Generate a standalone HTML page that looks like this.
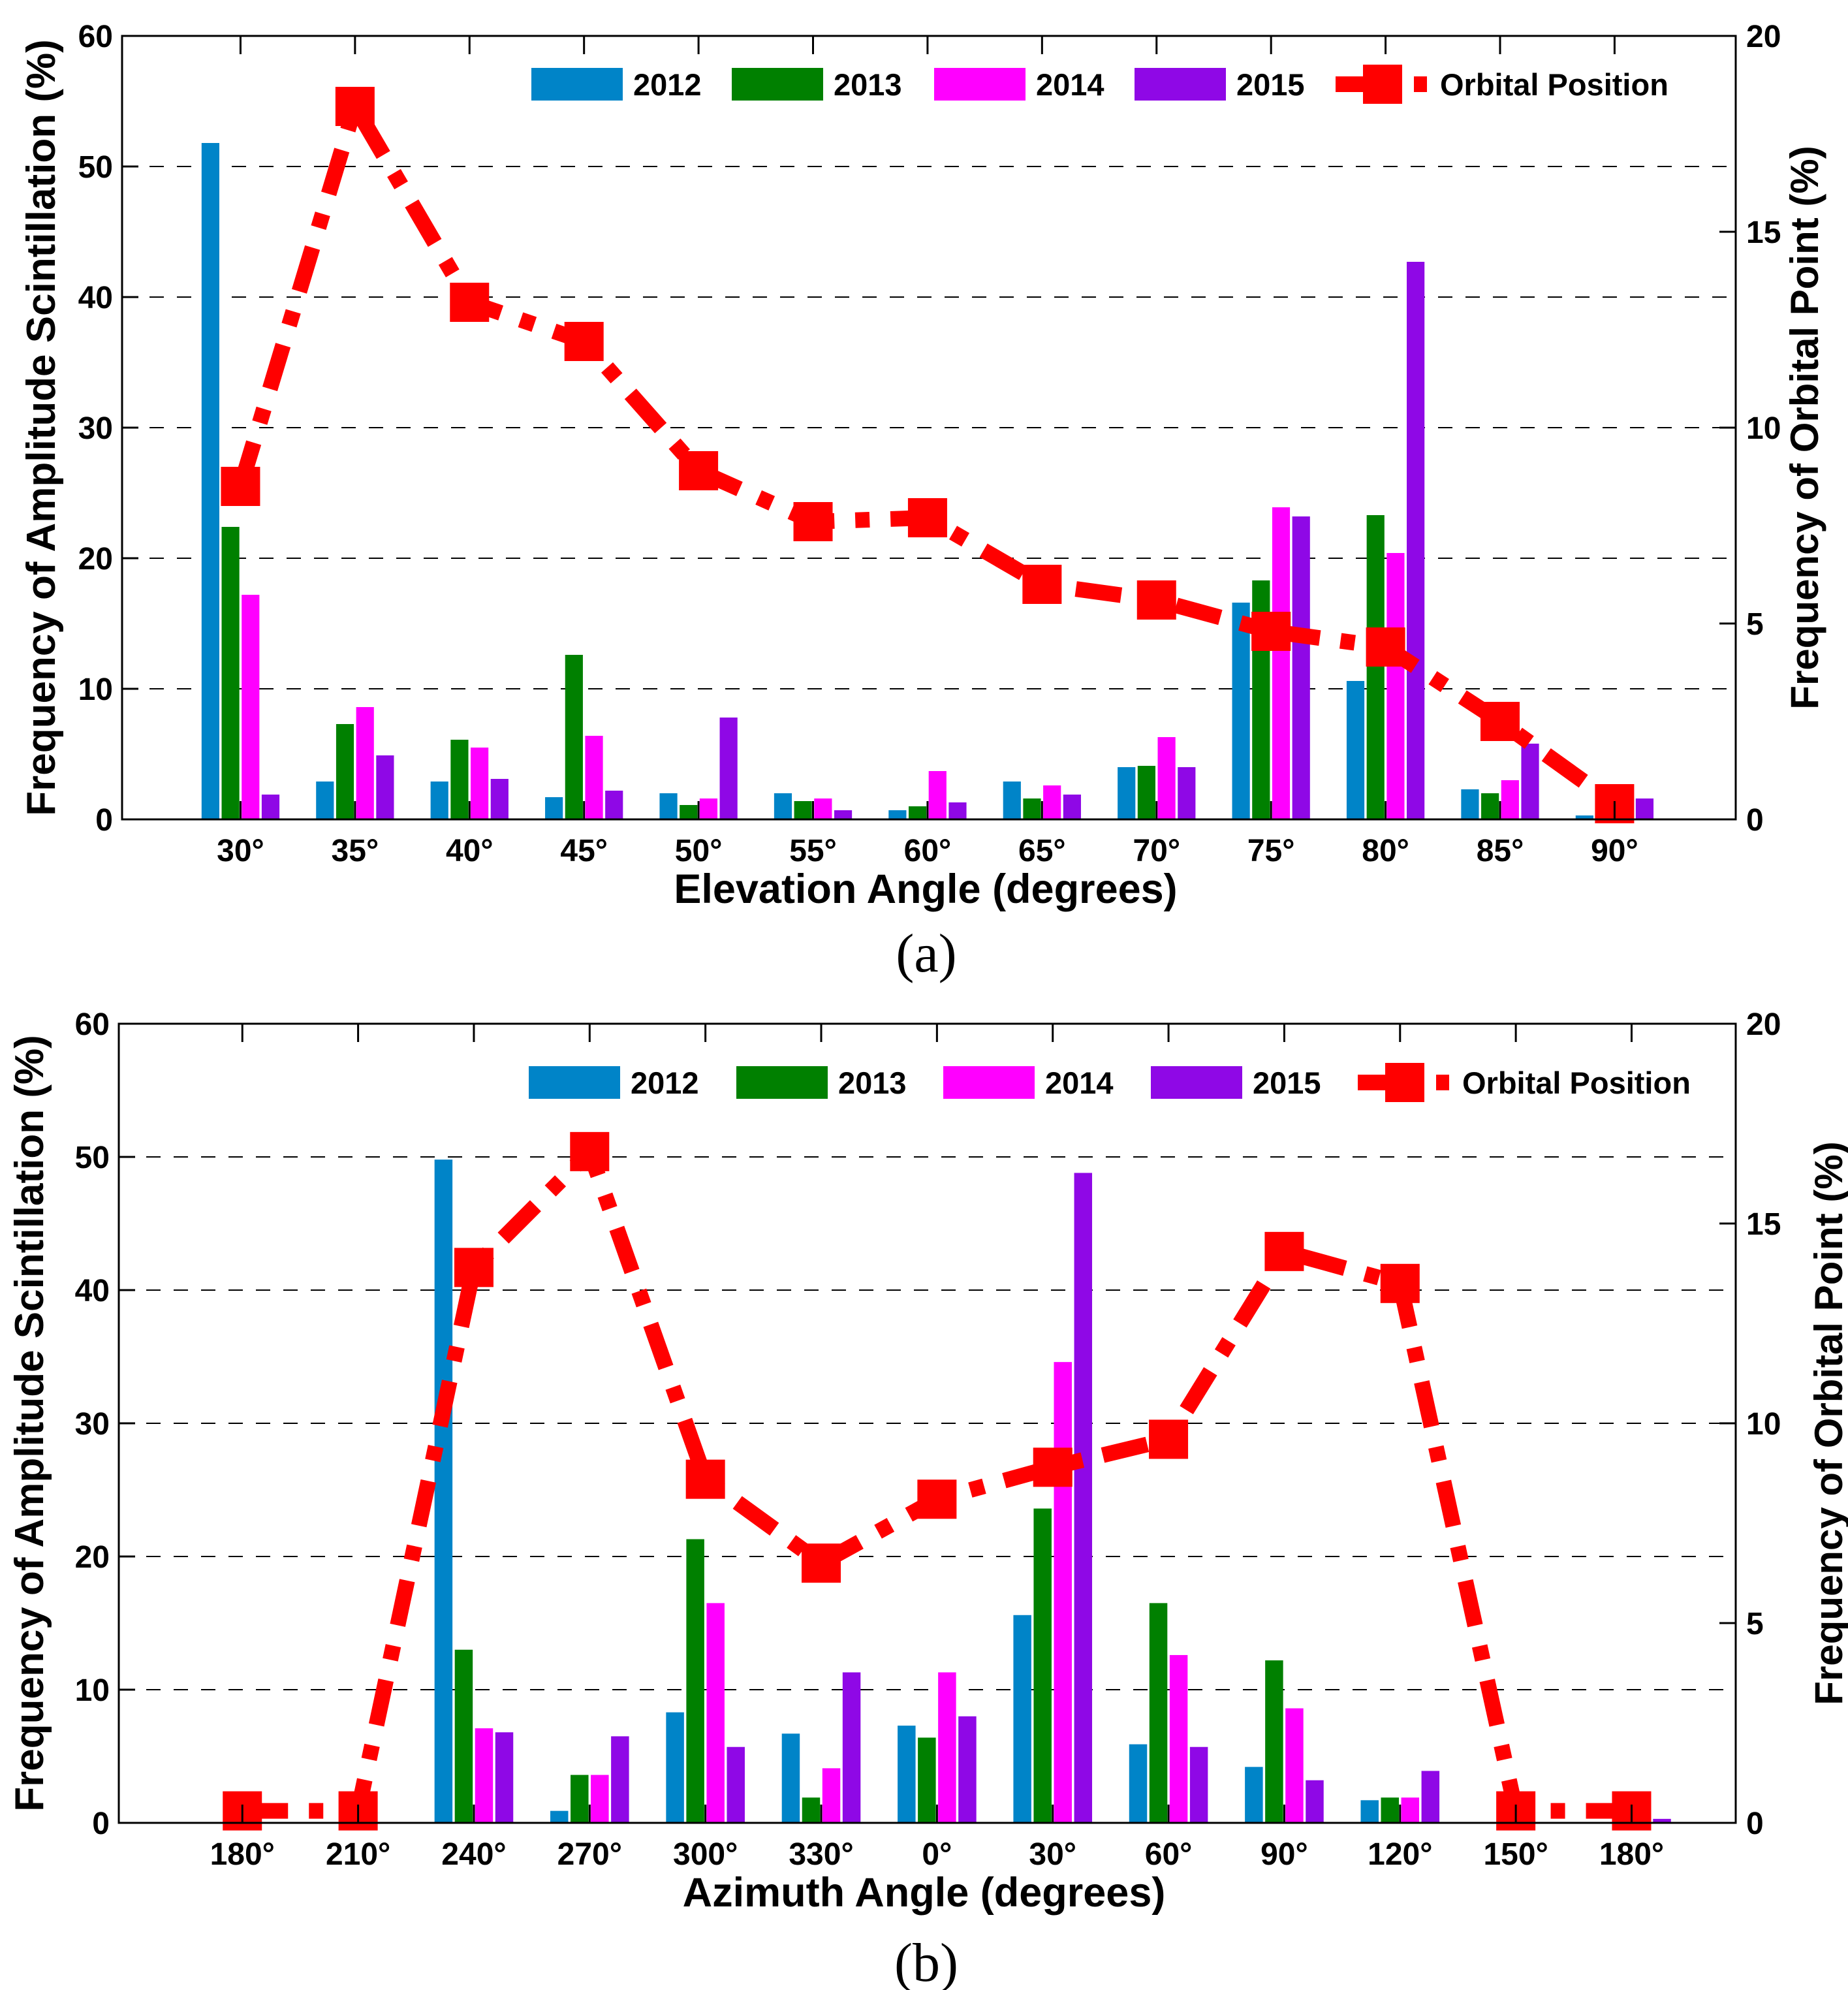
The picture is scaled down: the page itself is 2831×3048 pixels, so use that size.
<!DOCTYPE html>
<html><head><meta charset="utf-8"><style>
html,body{margin:0;padding:0;background:#fff;}
svg{display:block;font-family:"Liberation Sans",Arial,sans-serif;}
</style></head>
<body>
<svg id="fig" xmlns="http://www.w3.org/2000/svg" width="2831" height="3048" viewBox="0 0 2831 3048"></svg>
<script>
const elevCategories = ["30°","35°","40°","45°","50°","55°","60°","65°","70°","75°","80°","85°","90°"];
const elev2012 = [51.8,2.9,2.9,1.7,2.0,2.0,0.7,2.9,4.0,16.6,10.6,2.3,0.3];
const elev2013 = [22.4,7.3,6.1,12.6,1.1,1.4,1.0,1.6,4.1,18.3,23.3,2.0,0];
const elev2014 = [17.2,8.6,5.5,6.4,1.6,1.6,3.7,2.6,6.3,23.9,20.4,3.0,0.2];
const elev2015 = [1.9,4.9,3.1,2.2,7.8,0.7,1.3,1.9,4.0,23.2,42.7,5.8,1.6];
const elevOrbital = [8.5,18.2,13.2,12.2,8.9,7.6,7.7,6.0,5.6,4.8,4.4,2.5,0.4];

const aziCategories = ["180°","210°","240°","270°","300°","330°","0°","30°","60°","90°","120°","150°","180°"];
const azi2012 = [0,0,49.8,0.9,8.3,6.7,7.3,15.6,5.9,4.2,1.7,0,0];
const azi2013 = [0,0,13.0,3.6,21.3,1.9,6.4,23.6,16.5,12.2,1.9,0,0];
const azi2014 = [0,0,7.1,3.6,16.5,4.1,11.3,34.6,12.6,8.6,1.9,0,0];
const azi2015 = [0,0,6.8,6.5,5.7,11.3,8.0,48.8,5.7,3.2,3.9,0,0.3];
const aziOrbital = [0.3,0.3,13.9,16.8,8.6,6.5,8.1,8.9,9.6,14.3,13.5,0.3,0.3];

const leftTicks = [0,10,20,30,40,50,60];
const rightTicks = [0,5,10,15,20];
const seriesNames = ["2012","2013","2014","2015"];
const seriesColors = ["#0084c8","#008000","#ff00ff","#8f08e6"];

const NS="http://www.w3.org/2000/svg";
const svg=document.getElementById('fig');
function mk(tag,attrs,parent){const e=document.createElementNS(NS,tag);for(const k in attrs)e.setAttribute(k,attrs[k]);(parent||svg).appendChild(e);return e;}

function panel(p){
  const g=mk('g',{});
  
  
  const L=p.left,R=p.right,T=p.top,B=p.bottom;
  const xs=i=>L+(R-L)*(p.off+i*p.step);
  const yl=v=>B-v/60*(B-T);
  const yr=v=>B-v/20*(B-T);
  const step=(R-L)*p.step;
  leftTicks.forEach(t=>{ if(t>0&&t<60){const l=mk('line',{x1:L,x2:R,y1:yl(t),y2:yl(t),stroke:'#000','stroke-width':2,'stroke-dasharray':'22 20'},g);
    }});
  p.series.forEach((vals,s)=>{
    vals.forEach((v,i)=>{
      const w=step*0.155, off=(s-1.5)*step*0.175;
      const r=mk('rect',{x:xs(i)+off-w/2,y:yl(v),width:w,height:B-yl(v),fill:seriesColors[s]},g);
      
      
    });
  });
  const pts=p.orbital.map((v,i)=>xs(i)+','+yr(v)).join(' ');
  const pl=mk('polyline',{points:pts,fill:'none',stroke:'#ff0000','stroke-width':24,'stroke-dasharray':'70 32 22 32'},g);
  
  
  p.orbital.forEach((v,i)=>{
    const m=mk('rect',{x:xs(i)-30,y:yr(v)-30,width:60,height:60,fill:'#ff0000'},g);
    
    
  });
  const box=mk('rect',{x:L,y:T,width:R-L,height:B-T,fill:'none',stroke:'#000','stroke-width':3},g);
  
  
  p.cats.forEach((c,i)=>{
    mk('line',{x1:xs(i),x2:xs(i),y1:T,y2:T+28,stroke:'#000','stroke-width':3},g);
    mk('line',{x1:xs(i),x2:xs(i),y1:B,y2:B-28,stroke:'#000','stroke-width':3},g);
    const t=mk('text',{x:xs(i),y:B+64,'text-anchor':'middle','font-size':48,'font-weight':'bold'},g);
    t.textContent=c;
    
    
  });
  leftTicks.forEach(v=>{
    mk('line',{x1:L,x2:L+25,y1:yl(v),y2:yl(v),stroke:'#000','stroke-width':3},g);
    const t=mk('text',{x:L-14,y:yl(v)+17,'text-anchor':'end','font-size':48,'font-weight':'bold'},g);
    t.textContent=v;
    
    
  });
  rightTicks.forEach(v=>{
    mk('line',{x1:R,x2:R-25,y1:yr(v),y2:yr(v),stroke:'#000','stroke-width':3},g);
    const t=mk('text',{x:R+16,y:yr(v)+17,'text-anchor':'start','font-size':48,'font-weight':'bold'},g);
    t.textContent=v;
    
    
  });
  const xt=mk('text',{x:(L+R)/2-5,y:B+128,'text-anchor':'middle','font-size':63,'font-weight':'bold'},g);
  xt.textContent=p.xtitle;
  
  
  const ylt=mk('text',{x:0,y:0,'text-anchor':'middle','font-size':62,'font-weight':'bold',transform:`translate(${p.ylx},${(T+B)/2}) rotate(-90)`},g);
  ylt.textContent='Frequency of Amplitude Scintillation (%)';
  
  
  const yrt=mk('text',{x:0,y:0,'text-anchor':'middle','font-size':60,'font-weight':'bold',transform:`translate(${p.yrx},${(T+B)/2}) rotate(-90)`},g);
  yrt.textContent='Frequency of Orbital  Point (%)';
  
  
  const lg=mk('g',{},g);
  
  
  p.legX.forEach((lx,s)=>{
    if(s<4){
      const r=mk('rect',{x:lx,y:p.legY-25,width:140,height:50,fill:seriesColors[s]},lg);
      
      
      const t=mk('text',{x:lx+156,y:p.legY+17,'font-size':47,'font-weight':'bold'},lg);
      t.textContent=seriesNames[s];
      
      
    } else {
      mk('line',{x1:lx,x2:lx+145,y1:p.legY,y2:p.legY,stroke:'#ff0000','stroke-width':24,'stroke-dasharray':'95 25 20 40'},lg);
      const m=mk('rect',{x:lx+42,y:p.legY-30,width:60,height:60,fill:'#ff0000'},lg);
      
      
      const t=mk('text',{x:lx+160,y:p.legY+17,'font-size':47,'font-weight':'bold'},lg);
      t.textContent='Orbital Position';
      
      
    }
  });
  const cap=mk('text',{x:p.capX,y:p.capY,'text-anchor':'middle','font-size':84,'font-family':'"Liberation Serif",serif'},g);
  cap.textContent=p.caption;
  
  
}

panel({id:'elevation',left:187,right:2659,top:55,bottom:1255,cats:elevCategories,
  off:0.0734,step:0.07096,
  series:[elev2012,elev2013,elev2014,elev2015],orbital:elevOrbital,
  xtitle:'Elevation Angle (degrees)',ylx:84,yrx:2785,
  legX:[814,1121,1431,1738,2046],legY:129,caption:'(a)',capX:1419,capY:1488});
panel({id:'azimuth',left:182,right:2659,top:1568,bottom:2792,cats:aziCategories,
  off:0.0764,step:0.0716,
  series:[azi2012,azi2013,azi2014,azi2015],orbital:aziOrbital,
  xtitle:'Azimuth Angle (degrees)',ylx:66,yrx:2822,
  legX:[810,1128,1445,1763,2080],legY:1658,caption:'(b)',capX:1419,capY:3034});
</script>
</body></html>
